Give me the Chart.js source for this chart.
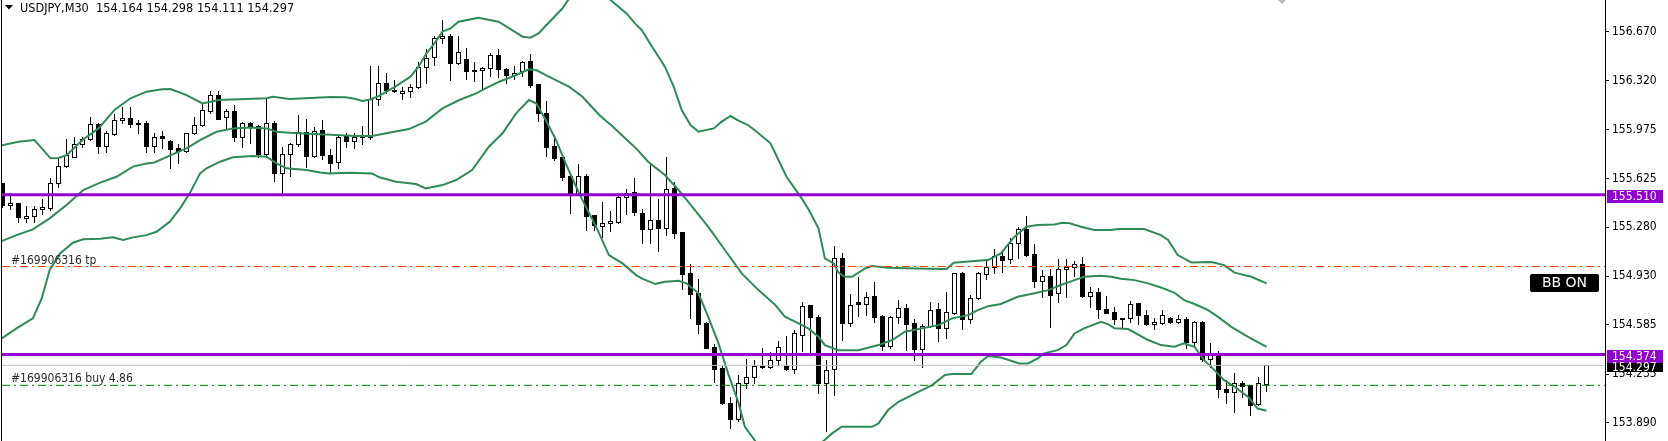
<!DOCTYPE html>
<html>
<head>
<meta charset="utf-8">
<script src="https://cdn.jsdelivr.net/npm/chart.js@4.4.1/dist/chart.umd.min.js"></script>
<style>
  html, body { margin: 0; padding: 0; background: #fff; }
  #wrap { width: 1668px; height: 441px; }
</style>
</head>
<body>
<div id="wrap"><canvas id="chart" width="1668" height="441"></canvas></div>
<script>
// USDJPY M30 candles, index 0 = oldest visible bar
const opens = [155.591,155.436,155.448,155.342,155.361,155.406,155.413,155.591,155.717,155.781,
  155.869,155.904,156.011,155.860,155.940,156.039,156.053,156.018,156.018,155.860,
  155.926,155.895,155.843,155.823,155.947,156.004,156.108,156.217,156.061,156.103,
  155.923,156.018,155.999,155.800,156.018,155.667,155.797,155.871,155.954,155.788,
  155.971,155.793,155.740,155.928,155.890,155.933,155.923,156.193,156.302,156.257,
  156.231,156.245,156.274,156.416,156.487,156.622,156.639,156.449,156.473,156.397,
  156.397,156.409,156.501,156.402,156.359,156.390,156.459,156.298,156.094,155.857,
  155.776,155.643,155.515,155.643,155.363,155.290,155.306,155.318,155.491,155.527,
  155.377,155.268,155.328,155.276,155.555,155.242,154.951,154.809,154.597,154.427,
  154.278,154.029,153.912,154.168,154.211,154.294,154.282,154.334,154.294,154.268,
  154.512,154.723,154.638,154.168,154.268,155.057,154.595,154.747,154.730,154.789,
  154.647,154.436,154.643,154.702,154.595,154.415,154.579,154.695,154.560,154.671,
  154.951,154.628,154.773,154.944,154.998,155.076,155.050,155.164,155.264,155.086,
  154.899,154.929,154.809,154.979,154.993,155.015,154.792,154.816,154.695,154.673,
  154.631,154.631,154.737,154.652,154.588,154.595,154.635,154.602,154.624,154.465,
  154.607,154.339,154.375,154.126,154.104,154.168,154.154,154.019,154.164];
const highs = [155.596,155.525,155.453,155.432,155.432,155.478,155.627,155.776,155.904,155.923,
  155.923,156.061,156.018,155.966,156.082,156.137,156.132,156.042,156.037,155.952,
  155.964,155.900,155.871,155.952,156.061,156.160,156.250,156.250,156.122,156.146,
  156.030,156.027,156.004,156.196,156.032,155.852,155.876,156.077,156.046,155.994,
  156.042,155.833,155.928,155.947,155.947,155.999,156.426,156.426,156.378,156.326,
  156.274,156.298,156.456,156.544,156.639,156.753,156.653,156.639,156.551,156.454,
  156.421,156.516,156.544,156.409,156.426,156.463,156.511,156.298,156.174,155.935,
  155.781,155.662,155.726,155.657,155.368,155.461,155.394,155.515,155.551,155.627,
  155.406,155.721,155.480,155.781,155.600,155.242,155.015,154.908,154.602,154.448,
  154.294,154.069,154.228,154.341,154.334,154.420,154.391,154.469,154.505,154.548,
  154.747,154.728,154.654,154.334,155.145,155.093,154.804,154.927,154.818,154.889,
  154.652,154.647,154.761,154.733,154.624,154.588,154.747,154.742,154.816,154.956,
  154.960,154.797,154.963,155.055,155.126,155.117,155.200,155.278,155.359,155.157,
  154.975,154.984,155.050,155.050,155.036,155.065,154.856,154.847,154.789,154.709,
  154.633,154.754,154.742,154.690,154.631,154.690,154.638,154.652,154.638,154.612,
  154.612,154.458,154.398,154.192,154.240,154.183,154.157,154.211,154.298];
const lows = [155.425,155.406,155.318,155.318,155.318,155.370,155.401,155.563,155.705,155.776,
  155.852,155.900,155.810,155.817,155.935,156.023,155.989,155.952,155.817,155.817,
  155.840,155.702,155.738,155.817,155.940,155.999,156.089,156.049,155.982,155.895,
  155.852,155.880,155.776,155.793,155.610,155.512,155.646,155.860,155.710,155.781,
  155.762,155.667,155.698,155.852,155.845,155.869,155.904,156.148,156.236,156.241,
  156.193,156.207,156.267,156.302,156.433,156.587,156.326,156.440,156.335,156.321,
  156.267,156.354,156.345,156.307,156.331,156.354,156.279,156.037,155.788,155.757,
  155.615,155.382,155.508,155.259,155.259,155.212,155.254,155.306,155.370,155.366,
  155.169,155.169,155.112,155.223,155.204,154.837,154.635,154.524,154.422,154.178,
  154.021,153.853,153.903,154.133,154.168,154.280,154.280,154.299,154.263,154.244,
  154.401,154.386,154.102,153.832,154.085,154.477,154.576,154.647,154.652,154.607,
  154.405,154.417,154.600,154.405,154.334,154.287,154.571,154.472,154.493,154.662,
  154.552,154.595,154.768,154.908,154.951,154.963,155.022,155.057,155.074,154.856,
  154.780,154.571,154.749,154.780,154.932,154.785,154.709,154.631,154.666,154.588,
  154.560,154.602,154.588,154.583,154.557,154.590,154.600,154.600,154.422,154.429,
  154.330,154.287,154.073,154.031,153.967,154.069,153.941,154.012,154.111];
const closes = [155.436,155.453,155.349,155.361,155.406,155.420,155.591,155.717,155.791,155.869,
  155.904,156.011,155.860,155.947,156.039,156.053,156.011,156.011,155.860,155.923,
  155.911,155.838,155.823,155.947,156.004,156.113,156.217,156.051,156.103,155.923,
  156.018,155.994,155.800,156.018,155.667,155.797,155.871,155.954,155.788,155.966,
  155.793,155.733,155.923,155.895,155.918,155.923,156.193,156.302,156.255,156.250,
  156.245,156.274,156.416,156.480,156.622,156.639,156.449,156.523,156.392,156.392,
  156.409,156.501,156.402,156.362,156.373,156.454,156.290,156.094,155.852,155.774,
  155.638,155.510,155.643,155.359,155.297,155.306,155.321,155.491,155.525,155.389,
  155.268,155.328,155.276,155.548,155.240,154.948,154.806,154.593,154.422,154.273,
  154.029,153.912,154.168,154.211,154.294,154.282,154.334,154.429,154.268,154.524,
  154.721,154.638,154.168,154.263,155.057,154.595,154.723,154.730,154.780,154.643,
  154.436,154.643,154.702,154.588,154.415,154.579,154.688,154.560,154.673,154.951,
  154.628,154.773,154.951,154.998,155.076,155.046,155.164,155.264,155.081,154.899,
  154.929,154.799,154.979,154.993,155.015,154.792,154.816,154.695,154.671,154.624,
  154.624,154.730,154.652,154.588,154.602,154.652,154.602,154.624,154.465,154.607,
  154.339,154.370,154.126,154.109,154.168,154.152,154.014,154.168,154.297];

// Bollinger bands: [bar index, price]
const upperBand = [[-0.3,155.859],[2,155.887],[4,155.899],[6,155.769],[7,155.771],[8,155.792],[10,155.899],[12,155.982],
  [14,156.113],[16,156.196],[18,156.243],[20,156.260],[21,156.262],[23,156.219],[25,156.160],[27,156.184],[33,156.196],
  [33.8,156.207],[35.9,156.191],[39.2,156.200],[41,156.205],[42.9,156.203],[44,156.193],[45,156.177],[46,156.188],
  [47,156.212],[49,156.275],[51,156.350],[52,156.421],[53,156.516],[54,156.587],[55,156.670],[56,156.693],[57,156.741],
  [59.5,156.769],[62,156.741],[64,156.670],[65,156.634],[66,156.627],[67,156.658],[68,156.717],[69,156.776],[70,156.836],
  [70.7,156.895],[72,156.950],[73.5,156.980],[75,156.950],[76,156.895],[78,156.800],[79.2,156.720],[79.9,156.682],
  [81.2,156.563],[82.8,156.421],[83.9,156.279],[84.9,156.113],[86,156.006],[87,155.958],[88.9,155.982],[89.9,156.030],
  [91,156.070],[92,156.037],[93.2,156.006],[94.5,155.947],[96,155.876],[97,155.757],[98,155.638],[99.9,155.484],
  [100.8,155.401],[102,155.271],[102.8,155.057],[103.9,155.022],[104.5,154.956],[105.3,154.927],[106.2,154.927],
  [107.8,154.986],[108.7,155.003],[110.7,154.991],[114.1,154.986],[118,154.982],[118.9,155.027],[121.9,155.041],
  [123.2,155.046],[124.8,155.093],[126.5,155.212],[128,155.283],[129.4,155.295],[131.5,155.299],[132.5,155.311],
  [133.4,155.307],[134.8,155.283],[136.5,155.259],[138.6,155.259],[139.4,155.266],[142.7,155.266],[144.8,155.223],
  [145.7,155.188],[146.9,155.081],[148.6,155.029],[151.1,155.031],[152.7,155.010],[154,154.956],[156.1,154.927],[158,154.880]];
const middleBand = [[-0.3,155.176],[1.75,155.223],[3.8,155.264],[5.9,155.342],[8,155.437],[10.1,155.544],[12.2,155.596],
  [14.25,155.638],[16.3,155.710],[18,155.733],[19,155.740],[20.9,155.788],[23,155.840],[24.7,155.899],[26.75,155.958],
  [28.8,155.982],[30.9,155.989],[33,155.982],[34.25,155.958],[35.9,155.951],[39.7,155.940],[41.7,155.935],[44.2,155.928],
  [46.2,155.928],[48.3,155.951],[50.8,155.977],[52.9,156.030],[55,156.124],[57.1,156.184],[59.2,156.231],[60.8,156.279],
  [62.1,156.314],[64.2,156.362],[65.8,156.402],[66.7,156.397],[68.3,156.350],[70.8,156.279],[72.5,156.207],[74.6,156.077],
  [76.3,155.994],[78.3,155.887],[79.2,155.840],[80.7,155.745],[82.8,155.650],[84.5,155.544],[86.2,155.425],[88.2,155.283],
  [90.3,155.117],[92.4,154.951],[94.5,154.832],[96.6,154.726],[97.8,154.643],[99.5,154.595],[100.7,154.560],[102,154.500],
  [102.8,154.441],[104.5,154.405],[107,154.405],[109.5,154.441],[111.2,154.477],[112.8,154.536],[114.9,154.560],
  [117,154.583],[118.7,154.631],[120.7,154.654],[121.9,154.690],[123.2,154.718],[124.8,154.733],[126.9,154.785],
  [129,154.809],[130.7,154.832],[132.3,154.868],[134,154.903],[135.2,154.927],[137.3,154.934],[138.6,154.927],
  [139.8,154.913],[141.5,154.903],[143.2,154.880],[144.8,154.851],[146.5,154.813],[147.7,154.761],[149,154.733],
  [150.7,154.690],[151.9,154.643],[153.6,154.571],[155.7,154.500],[158,154.429]];
const lowerBand = [[-0.3,154.481],[1.75,154.560],[3.8,154.631],[4.9,154.773],[5.9,154.975],[7.2,155.093],[8.8,155.169],
  [10.1,155.193],[12.2,155.197],[13.8,155.207],[15.1,155.188],[16.3,155.207],[18,155.223],[19.25,155.247],[20.9,155.318],
  [22.2,155.413],[23.4,155.520],[24.7,155.662],[25.5,155.698],[27.2,155.745],[28.8,155.776],[31.3,155.785],[33,155.781],
  [34.25,155.733],[35.5,155.698],[38,155.686],[39.7,155.669],[40.8,155.662],[43.3,155.667],[46.2,155.662],[47.1,155.634],
  [49.2,155.603],[51.7,155.586],[52.9,155.555],[55,155.579],[56.7,155.615],[58.7,155.686],[60.8,155.852],[62.5,155.947],
  [64.2,156.089],[65.8,156.184],[66.7,156.160],[67.9,156.041],[69.2,155.899],[70.4,155.733],[71.7,155.567],[72.5,155.472],
  [74.2,155.283],[75.8,155.081],[77.5,155.022],[79.2,154.939],[79.9,154.915],[81.6,154.875],[82.8,154.891],[84.5,154.899],
  [85.5,154.880],[87,154.809],[88.2,154.643],[89.5,154.453],[90.7,154.240],[92,154.030],[92.8,153.860],[94.1,153.758],
  [96,153.660],[98.5,153.640],[101,153.690],[102.6,153.758],[103.7,153.813],[104.9,153.860],[108.7,153.860],
  [109.5,153.884],[110.7,153.979],[112,154.038],[114.1,154.097],[116.2,154.157],[117.8,154.228],[118.7,154.235],
  [121.1,154.235],[122.3,154.322],[123.2,154.363],[124.8,154.353],[127.1,154.311],[128.2,154.311],[129.4,154.346],
  [130.2,154.382],[131.9,154.405],[133,154.441],[134,154.524],[135.2,154.560],[137.3,154.607],[138.2,154.590],
  [139,154.560],[140.7,154.555],[143.2,154.477],[144.8,154.441],[146.5,154.429],[147.7,154.453],[149,154.429],
  [150.2,154.334],[151.5,154.263],[152.7,154.192],[154,154.145],[155.7,154.073],[156.9,153.990],[158,153.974]];

const priceTicks = [156.670, 156.320, 155.975, 155.625, 155.280, 154.930, 154.585, 154.235, 153.890];
const levelPrices = [155.510, 154.374];   // purple horizontal lines
const bidPrice = 154.297;
const tpPrice = 155.000;
const buyPrice = 154.155;
const ticket = '169906316';
const lots = 4.86;
const symbol = 'USDJPY';
const timeframe = 'M30';

const X_MIN = -0.0625, X_MAX = 200.3125;
const Y_MIN = 153.759, Y_MAX = 156.895;
const FAMILY = '"DejaVu Sans Condensed", "DejaVu Sans", sans-serif';
const FONT = '12px ' + FAMILY;

const toXY = arr => arr.map(p => ({ x: p[0], y: p[1] }));
const hline = v => [{ x: X_MIN, y: v }, { x: X_MAX, y: v }];

const candlePlugin = {
  id: 'candles',
  beforeDatasetsDraw(chart) {
    const { ctx, chartArea, scales: { x, y } } = chart;
    ctx.save();
    ctx.beginPath();
    ctx.rect(chartArea.left, chartArea.top, chartArea.right - chartArea.left, chartArea.bottom - chartArea.top);
    ctx.clip();
    ctx.lineWidth = 1;
    ctx.strokeStyle = '#000';
    for (let i = 0; i < opens.length; i++) {
      const cx = Math.floor(x.getPixelForValue(i)) + 0.5;
      const yh = Math.round(y.getPixelForValue(highs[i]));
      const yl = Math.round(y.getPixelForValue(lows[i]));
      const yo = Math.round(y.getPixelForValue(opens[i]));
      const yc = Math.round(y.getPixelForValue(closes[i]));
      ctx.beginPath();
      ctx.moveTo(cx, yh);
      ctx.lineTo(cx, yl + 1);
      ctx.stroke();
      const top = Math.min(yo, yc), bot = Math.max(yo, yc);
      if (closes[i] > opens[i]) {
        ctx.fillStyle = '#fff';
        ctx.fillRect(cx - 2.5, top, 5, bot - top + 1);
        ctx.strokeRect(cx - 2, top + 0.5, 4, Math.max(bot - top, 1));
      } else {
        ctx.fillStyle = '#000';
        ctx.fillRect(cx - 2.5, top, 5, bot - top + 1);
      }
    }
    ctx.restore();
  }
};

const overlayPlugin = {
  id: 'overlay',
  afterDraw(chart) {
    const { ctx, chartArea, scales: { y } } = chart;
    ctx.save();
    // left frame line
    ctx.fillStyle = '#000';
    ctx.fillRect(1, 0, 1, chart.height);

    // trade labels
    ctx.font = FONT;
    ctx.fillStyle = '#2a2a2a';
    ctx.textAlign = 'left';
    ctx.textBaseline = 'alphabetic';
    ctx.fillText('#' + ticket + ' tp', 11, Math.round(y.getPixelForValue(tpPrice)) - 2);
    ctx.fillText('#' + ticket + ' buy ' + lots.toFixed(2), 11, Math.round(y.getPixelForValue(buyPrice)) - 3);

    // header
    const last = opens.length - 1;
    ctx.fillStyle = '#000';
    ctx.beginPath();
    ctx.moveTo(5, 5); ctx.lineTo(13, 5); ctx.lineTo(9, 9.5); ctx.closePath();
    ctx.fill();
    ctx.font = '12.6px ' + FAMILY;
    ctx.fillText(symbol + ',' + timeframe + '  ' + [opens[last], highs[last], lows[last], closes[last]].map(v => v.toFixed(3)).join(' '), 20, 12);
    ctx.font = FONT;

    // price boxes on the axis
    const ax = chartArea.right + 2;
    let prevBottom = -1;
    levelPrices.forEach(v => {
      const yc = Math.round(y.getPixelForValue(v));
      ctx.fillStyle = '#9400D3';
      ctx.fillRect(ax, yc - 5, 56, 13);
      ctx.fillStyle = '#fff';
      ctx.textBaseline = 'middle';
      ctx.fillText(v.toFixed(3), ax + 5, yc + 1.5);
      if (v < bidPrice + 0.2) prevBottom = Math.max(prevBottom, yc + 8);
    });
    const yb = Math.round(y.getPixelForValue(bidPrice));
    const bTop = Math.max(yb - 6, prevBottom), bBot = yb + 7;
    ctx.fillStyle = '#000';
    ctx.fillRect(ax, bTop, 56, bBot - bTop);
    ctx.fillStyle = '#fff';
    ctx.fillText(bidPrice.toFixed(3), ax + 5, (bTop + bBot) / 2 + 0.5);

    // BB ON button
    ctx.fillStyle = '#000';
    ctx.beginPath();
    ctx.roundRect(1530, 274, 69, 18, 2);
    ctx.fill();
    ctx.fillStyle = '#fff';
    ctx.font = '14px "DejaVu Sans", sans-serif';
    ctx.textAlign = 'center';
    ctx.fillText('BB ON', 1564.5, 283.5);

    // small grey marker at top
    ctx.fillStyle = '#b8b8b8';
    ctx.beginPath();
    ctx.moveTo(1278, 0); ctx.lineTo(1286, 0); ctx.lineTo(1282, 4); ctx.closePath();
    ctx.fill();
    ctx.restore();
  }
};

const bandStyle = { type: 'line', borderColor: '#2E8B57', borderWidth: 2, pointRadius: 0, tension: 0, fill: false, order: 2 };

new Chart(document.getElementById('chart').getContext('2d'), {
  type: 'line',
  data: {
    datasets: [
      { ...bandStyle, label: 'upper', data: toXY(upperBand) },
      { ...bandStyle, label: 'middle', data: toXY(middleBand) },
      { ...bandStyle, label: 'lower', data: toXY(lowerBand) },
      { type: 'line', label: 'tp', data: hline(tpPrice), borderColor: '#FF4500', borderWidth: 1, borderDash: [8, 4, 2, 4], pointRadius: 0, order: 1 },
      { type: 'line', label: 'buy', data: hline(buyPrice), borderColor: '#007F00', borderWidth: 1, borderDash: [8, 4, 2, 4], pointRadius: 0, order: 1 },
      { type: 'line', label: 'bid', data: hline(bidPrice), borderColor: '#C0C0C0', borderWidth: 1, pointRadius: 0, order: 1 },
      ...levelPrices.map(v => ({ type: 'line', label: 'level', data: hline(v), borderColor: '#9400D3', borderWidth: 3, pointRadius: 0, order: 0 }))
    ]
  },
  options: {
    responsive: false,
    animation: false,
    devicePixelRatio: 1,
    layout: { padding: { left: 2, right: 0, top: 0, bottom: 0 } },
    plugins: { legend: { display: false }, tooltip: { enabled: false } },
    scales: {
      x: { type: 'linear', display: false, min: X_MIN, max: X_MAX },
      y: {
        type: 'linear',
        position: 'right',
        min: Y_MIN,
        max: Y_MAX,
        afterFit: s => { s.width = 63; s.paddingTop = 0; s.paddingBottom = 0; },
        afterBuildTicks: s => { s.ticks = priceTicks.map(v => ({ value: v })); },
        grid: { drawOnChartArea: false, drawTicks: true, tickLength: 4, color: '#000' },
        border: { display: true, color: '#000', width: 1 },
        ticks: {
          autoSkip: false,
          padding: 3,
          color: '#000',
          font: { family: FAMILY, size: 12 },
          callback: v => Number(v).toFixed(3)
        }
      }
    }
  },
  plugins: [candlePlugin, overlayPlugin]
});
</script>
</body>
</html>
